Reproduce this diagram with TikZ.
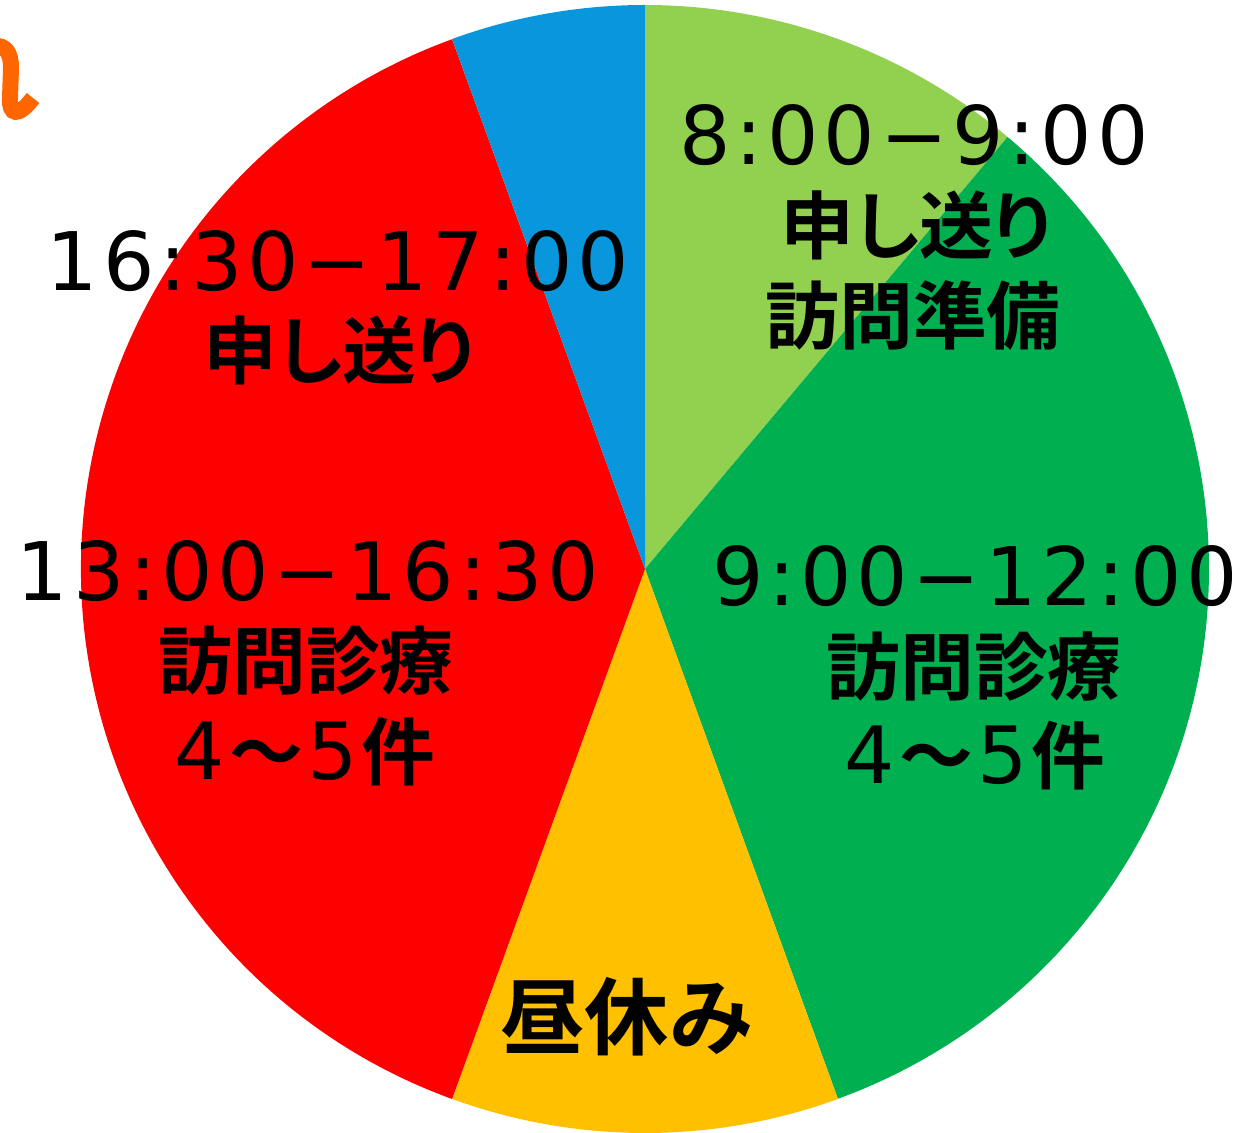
\documentclass[tikz,border=0pt]{standalone}
\usepackage{fontspec}
\setmainfont{DejaVu Sans}
\newfontfamily\jpfont{Noto Sans CJK JP}[UprightFont={* Bold}]
\newfontfamily\jpkana{Noto Sans CJK JP}[UprightFont={* Bold},RawFeature=+palt]
\newfontfamily\timefont{DejaVu Sans}[LetterSpace=6]
\definecolor{lgreen}{HTML}{92D050}
\definecolor{dgreen}{HTML}{00B050}
\definecolor{lyellow}{HTML}{FFC000}
\definecolor{lred}{HTML}{FF0000}
\definecolor{lblue}{HTML}{0897DC}
\definecolor{lorange}{HTML}{FF6600}
\newcommand\nm[1]{{\timefont\fontsize{45}{48}\selectfont #1}}

\begin{document}
\begin{tikzpicture}[x=0.02cm,y=0.02cm,
	timelbl/.style={font=\timefont\fontsize{46}{50}\selectfont,inner sep=0pt},
	jplbl/.style={font=\jpfont\fontsize{42}{46}\selectfont,inner sep=0pt},
	kanalbl/.style={font=\jpkana\fontsize{42}{46}\selectfont,inner sep=0pt}]
		\useasboundingbox (0,0) rectangle (1252,1133);
		\coordinate (c) at (645,564);

		% wedges, clockwise from the top
		\foreach \a/\b/\col in {90/50/lgreen,50/-70/dgreen,-70/-110/lyellow,-110/-250/lred,110/90/lblue}
			\fill[\col] (c) -- ++(\a:564) arc[start angle=\a,end angle=\b,radius=11.28cm] -- cycle;

		% cut off stroke at the left edge
		\draw[lorange,line width=0.32cm] (-6,1087) .. controls (6,1088) and (11,1080) .. (11,1065) -- (10,1035) .. controls (9,1018) and (18,1015) .. (33,1035);

		\node[timelbl] at (914,998) (m1) {8:00−9:00};
		\node[kanalbl] at (916,908) (m2) {申し送り};
		\node[jplbl] at (913,818) (m3) {訪問準備};

		\node[timelbl] at (975,557) (a1) {9:00−12:00};
		\node[jplbl] at (974,466) (a2) {訪問診療};
		\node[jplbl] at (975,377) (a3) {\nm{4}\kern2.5pt〜\kern2.5pt\nm{5}\kern2.5pt件};

		\node[jplbl,font=\jpfont\fontsize{48}{52}\selectfont] at (627,116) (l1) {昼休み};

		\node[timelbl] at (308,562) (p1) {13:00−16:30};
		\node[jplbl] at (306,472) (p2) {訪問診療};
		\node[jplbl] at (305,381) (p3) {\nm{4}\kern2.5pt〜\kern2.5pt\nm{5}\kern2.5pt件};

		\node[timelbl] at (338,872) (e1) {16:30−17:00};
		\node[kanalbl] at (339,783) (e2) {申し送り};
	\end{tikzpicture}
\end{document}
